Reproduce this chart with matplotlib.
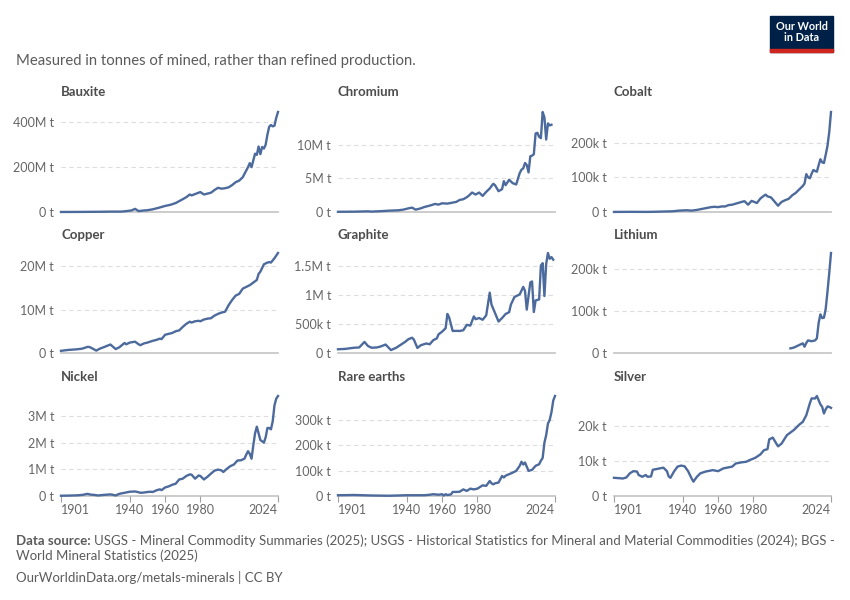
import matplotlib
matplotlib.use('Agg')
import matplotlib.pyplot as plt
from matplotlib.ticker import FuncFormatter
from matplotlib.patches import Rectangle
import numpy as np

plt.rcParams['font.family'] = ['Lato', 'DejaVu Sans']

# ---- data ----
bauxite_years = [1901, 1910, 1915, 1920, 1925, 1930, 1935, 1938, 1941, 1943, 1945, 1947, 1950, 1953, 1956,
                 1960, 1963, 1966, 1970, 1972, 1974, 1975, 1977, 1980, 1982, 1984, 1986, 1988, 1990, 1992,
                 1994, 1996, 1998, 2000, 2002, 2004, 2005, 2006, 2007, 2008, 2009, 2010, 2011, 2012, 2013,
                 2014, 2015, 2016, 2017, 2018, 2019, 2020, 2021, 2022, 2023, 2024]
bauxite_mt = [0.1, 0.3, 0.6, 0.9, 1.2, 1.8, 1.7, 4, 7, 14, 4, 6, 8, 12, 18,
              27, 32, 40, 57, 66, 78, 74, 80, 89, 78, 82, 86, 98, 108, 104,
              106, 110, 120, 133, 140, 155, 170, 185, 200, 218, 200, 230, 260, 255, 292,
              258, 290, 283, 300, 345, 380, 388, 382, 385, 420, 446]

chromium_years = [1901, 1905, 1910, 1915, 1918, 1920, 1925, 1930, 1935, 1938, 1941, 1943, 1945, 1948, 1950,
                  1953, 1956, 1958, 1960, 1963, 1966, 1968, 1970, 1972, 1974, 1975, 1977, 1979, 1981, 1983,
                  1985, 1987, 1989, 1990, 1992, 1994, 1995, 1996, 1998, 2000, 2002, 2004, 2005, 2006, 2007,
                  2008, 2009, 2010, 2011, 2012, 2013, 2014, 2015, 2016, 2017, 2018, 2019, 2020, 2021, 2022]
chromium_mt = [0.03, 0.04, 0.05, 0.08, 0.1, 0.06, 0.12, 0.2, 0.25, 0.35, 0.55, 0.65, 0.35, 0.55, 0.75,
               0.95, 1.2, 1.1, 1.3, 1.25, 1.4, 1.5, 1.8, 1.9, 2.2, 2.4, 2.9, 2.6, 2.9, 2.4,
               3.0, 3.5, 4.2, 4.0, 3.1, 3.4, 4.6, 4.0, 4.8, 4.3, 4.1, 5.8, 6.3, 6.5, 7.3,
               7.0, 5.9, 8.3, 8.4, 8.6, 11.7, 11.8, 11.2, 11.0, 14.9, 14.1, 10.8, 13.2, 12.9, 13.0]

cobalt_years = [1901, 1910, 1915, 1920, 1925, 1930, 1934, 1938, 1942, 1945, 1948, 1950, 1952, 1954, 1956,
                1958, 1960, 1962, 1964, 1966, 1968, 1970, 1972, 1974, 1975, 1977, 1979, 1980, 1982, 1984,
                1986, 1987, 1988, 1990, 1992, 1994, 1995, 1996, 1998, 2000, 2002, 2004, 2006, 2008, 2009,
                2010, 2011, 2012, 2013, 2014, 2015, 2016, 2017, 2018, 2019, 2020, 2021, 2022, 2023, 2024]
cobalt_kt = [0.2, 0.5, 0.4, 0.3, 0.8, 1.5, 2, 4, 5, 4, 6, 8, 10, 12, 14,
             15, 14, 16, 16, 20, 21, 24, 27, 30, 31, 21, 32, 30, 26, 39,
             47, 50, 45, 42, 30, 18, 24, 29, 34, 38, 48, 55, 65, 75, 82,
             109, 100, 97, 110, 121, 118, 116, 135, 152, 143, 141, 165, 190, 230, 288]

copper_years = [1901, 1905, 1910, 1913, 1916, 1917, 1919, 1921, 1923, 1925, 1929, 1930, 1932, 1934, 1937,
                1938, 1940, 1943, 1945, 1946, 1948, 1950, 1953, 1955, 1957, 1958, 1960, 1962, 1964, 1966,
                1968, 1970, 1972, 1974, 1975, 1977, 1979, 1980, 1982, 1984, 1986, 1988, 1990, 1992, 1994,
                1996, 1998, 2000, 2002, 2004, 2006, 2008, 2010, 2012, 2013, 2014, 2016, 2018, 2019, 2020,
                2022, 2024]
copper_mt = [0.5, 0.7, 0.85, 1.0, 1.4, 1.4, 1.0, 0.55, 1.0, 1.3, 1.95, 1.6, 0.9, 1.3, 2.3,
             2.0, 2.4, 2.6, 2.0, 1.8, 2.2, 2.4, 2.8, 3.0, 3.3, 3.2, 4.2, 4.4, 4.6, 5.0,
             5.2, 6.0, 6.7, 7.2, 7.0, 7.3, 7.4, 7.3, 7.7, 7.9, 8.0, 8.6, 9.0, 9.3, 9.5,
             11.0, 12.2, 13.2, 13.6, 14.8, 15.2, 15.6, 16.2, 16.8, 18.2, 18.7, 20.4, 20.8, 20.9, 20.8,
             21.8, 23.0]

graphite_years = [1901, 1905, 1910, 1913, 1916, 1918, 1920, 1923, 1925, 1928, 1931, 1934, 1936, 1939, 1941,
                  1943, 1944, 1946, 1948, 1951, 1953, 1955, 1957, 1958, 1960, 1962, 1963, 1964, 1966, 1968,
                  1970, 1972, 1974, 1976, 1978, 1979, 1981, 1983, 1985, 1987, 1988, 1990, 1992, 1994, 1996,
                  1998, 1999, 2001, 2004, 2006, 2007, 2008, 2010, 2011, 2012, 2013, 2015, 2016, 2017, 2018,
                  2019, 2020, 2021, 2022, 2023]
graphite_kt = [64, 70, 90, 95, 190, 120, 90, 95, 110, 145, 50, 90, 130, 190, 238,
               262, 230, 87, 134, 163, 150, 220, 250, 320, 366, 424, 670, 610, 378, 380,
               378, 390, 483, 470, 628, 580, 600, 570, 645, 1035, 830, 686, 540, 600, 669,
               700, 830, 960, 1006, 1134, 1064, 744, 1209, 1227, 703, 901, 919, 1500, 1541, 977,
               1529, 1715, 1616, 1645, 1600]
graphite_years = graphite_years[:len(graphite_kt)]

lithium_years = [2001, 2002, 2003, 2004, 2005, 2006, 2007, 2008, 2009, 2010, 2011, 2012, 2013, 2014, 2015,
                 2016, 2017, 2018, 2019, 2020, 2021, 2022, 2023, 2024]
lithium_kt = [11, 12, 13, 15, 17, 19, 21, 23, 15, 24, 30, 29, 28, 29, 30,
              35, 72, 92, 83, 84, 105, 146, 190, 238]

nickel_years = [1901, 1905, 1910, 1913, 1916, 1918, 1920, 1922, 1925, 1929, 1930, 1932, 1934, 1937, 1940,
                1943, 1945, 1946, 1948, 1950, 1952, 1953, 1955, 1957, 1958, 1960, 1962, 1964, 1966, 1968,
                1970, 1972, 1974, 1975, 1977, 1979, 1980, 1982, 1984, 1986, 1988, 1990, 1992, 1993, 1995,
                1997, 1999, 2001, 2003, 2005, 2006, 2007, 2008, 2009, 2010, 2011, 2012, 2013, 2014, 2015,
                2016, 2017, 2018, 2019, 2020, 2021, 2022, 2023, 2024]
nickel_mt = [0.01, 0.015, 0.025, 0.04, 0.08, 0.05, 0.04, 0.02, 0.04, 0.06, 0.05, 0.02, 0.08, 0.12, 0.16,
             0.17, 0.14, 0.12, 0.13, 0.15, 0.16, 0.15, 0.21, 0.25, 0.22, 0.32, 0.36, 0.42, 0.46, 0.62,
             0.65, 0.75, 0.81, 0.8, 0.65, 0.77, 0.75, 0.62, 0.72, 0.84, 0.95, 0.99, 0.96, 0.9, 1.02,
             1.12, 1.18, 1.33, 1.34, 1.4, 1.55, 1.68, 1.58, 1.40, 1.9, 2.35, 2.6, 2.35, 2.1, 2.05,
             2.0, 2.2, 2.55, 2.55, 2.5, 2.8, 3.4, 3.65, 3.75]

rare_years = [1901, 1910, 1920, 1930, 1940, 1950, 1953, 1955, 1958, 1960, 1961, 1962, 1963, 1965, 1966,
              1968, 1970, 1972, 1974, 1976, 1978, 1980, 1983, 1985, 1987, 1988, 1989, 1990, 1992, 1994,
              1995, 1996, 1998, 2000, 2002, 2004, 2005, 2006, 2007, 2009, 2011, 2013, 2015, 2016, 2017,
              2018, 2019, 2020, 2021, 2022, 2023, 2024]
rare_kt = [3, 4, 2, 1, 3, 3, 5, 7, 5, 7, 2, 7, 4, 6, 16,
           16, 17, 26, 20, 29, 26, 29, 42, 40, 59, 50, 46, 50, 53, 79,
           73, 80, 86, 92, 99, 119, 135, 124, 132, 99, 103, 119, 125, 139, 150,
           210, 240, 285, 300, 330, 376, 394]

silver_years = [1901, 1904, 1906, 1908, 1910, 1912, 1914, 1915, 1917, 1919, 1920, 1922, 1923, 1925, 1927,
                1929, 1931, 1932, 1933, 1935, 1937, 1939, 1941, 1943, 1945, 1946, 1948, 1950, 1953, 1957,
                1960, 1963, 1966, 1968, 1970, 1973, 1976, 1978, 1981, 1984, 1986, 1988, 1989, 1991, 1993,
                1994, 1996, 1999, 2003, 2006, 2008, 2010, 2012, 2013, 2015, 2016, 2018, 2019, 2020, 2021,
                2022, 2023, 2024]
silver_kt = [5.2, 5.1, 5.0, 5.3, 6.5, 7.1, 7.0, 6.0, 5.5, 6.0, 5.5, 5.6, 7.5, 7.7, 7.9,
             8.1, 7.1, 5.6, 5.2, 7.0, 8.4, 8.7, 8.5, 7.1, 5.0, 4.1, 5.5, 6.5, 7.0, 7.4,
             7.1, 7.9, 8.2, 8.4, 9.3, 9.6, 9.8, 10.3, 10.9, 11.9, 13.1, 13.4, 16.2, 16.7, 15.0,
             14.2, 15.0, 17.4, 18.9, 20.4, 21.2, 23.1, 26.5, 27.9, 27.9, 28.6, 26.2, 25.5, 23.6, 24.8,
             25.6, 25.5, 25.2]

names = ['Bauxite', 'Chromium', 'Cobalt', 'Copper', 'Graphite', 'Lithium', 'Nickel', 'Rare earths', 'Silver']
series = [(bauxite_years, bauxite_mt, 1e6), (chromium_years, chromium_mt, 1e6), (cobalt_years, cobalt_kt, 1e3),
          (copper_years, copper_mt, 1e6), (graphite_years, graphite_kt, 1e3), (lithium_years, lithium_kt, 1e3),
          (nickel_years, nickel_mt, 1e6), (rare_years, rare_kt, 1e3), (silver_years, silver_kt, 1e3)]
yticks = [[0, 200e6, 400e6], [0, 5e6, 10e6], [0, 100e3, 200e3],
          [0, 10e6, 20e6], [0, 500e3, 1e6, 1.5e6], [0, 100e3, 200e3],
          [0, 1e6, 2e6, 3e6], [0, 100e3, 200e3, 300e3], [0, 10e3, 20e3]]
xticks = [1901, 1940, 1960, 1980, 2024]

W, H = 850, 600
LINE = '#4c6a9c'
GREY = '#666666'
TEXT = '#5b5b5b'


def tonnes(v, pos):
    if v == 0:
        return '0 t'
    if v >= 1e6:
        return f'{v / 1e6:g}M t'
    if v >= 1e3:
        return f'{v / 1e3:g}k t'
    return f'{v:g} t'


fig = plt.figure(figsize=(W / 100, H / 100), dpi=100)

col_x = [61, 338, 614]
base_y = [212, 353, 496]
title_y = [92, 235, 377]
pw, ph = 217, 100

for i, name in enumerate(names):
    r, c = divmod(i, 3)
    yrs, vals, mult = series[i]
    assert len(yrs) == len(vals), name
    y = np.array(vals) * mult
    ax = fig.add_axes([col_x[c] / W, 1 - base_y[r] / H, pw / W, ph / H])
    ax.set_xlim(1901, 2024)
    ax.set_ylim(0, y.max())
    for s in ax.spines.values():
        s.set_visible(False)
    for t in yticks[i][1:]:
        ax.axhline(t, color='#dddddd', lw=0.8, ls=(0, (4, 3)), zorder=0)
    ax.axhline(0, color='#c8c8c8', lw=1.3, zorder=1, clip_on=False)
    ax.plot(yrs, y, color=LINE, lw=1.7, clip_on=False, zorder=3, solid_joinstyle='round')
    ax.set_yticks(yticks[i])
    ax.yaxis.set_major_formatter(FuncFormatter(tonnes))
    ax.tick_params(axis='y', length=0, pad=5, labelsize=9, labelcolor=GREY)
    if r == 2:
        ax.set_xticks(xticks)
        ax.tick_params(axis='x', length=4, width=0.8, color='#a0a0a0', labelsize=9, labelcolor=GREY, pad=2)
        labels = ax.get_xticklabels()
        labels[0].set_horizontalalignment('left')
        labels[-1].set_horizontalalignment('right')
    else:
        ax.set_xticks([])
    ax.set_facecolor('none')
    fig.text(col_x[c] / W, 1 - title_y[r] / H, name, fontsize=9.5, fontweight='bold',
             color='#4d4d4d', va='center', ha='left')

# header
fig.text(16 / W, 1 - 61 / H, 'Measured in tonnes of mined, rather than refined production.',
         fontsize=10.7, color=TEXT, va='center', ha='left')
fig.patches.append(Rectangle((770 / W, 1 - 52 / H), 63 / W, 36 / H, transform=fig.transFigure,
                             color='#002147', zorder=5))
fig.patches.append(Rectangle((770 / W, 1 - 52 / H), 63 / W, 3 / H, transform=fig.transFigure,
                             color='#ce261e', zorder=6))
fig.text(801.5 / W, 1 - 32 / H, 'Our World\nin Data', fontsize=7.8, color='white', fontweight='bold',
         ha='center', va='center', linespacing=1.0, zorder=7)

# footer
fs = 9.5
renderer = fig.canvas.get_renderer()
t0 = fig.text(16 / W, 1 - 541 / H, 'Data source:', fontsize=fs, fontweight='bold', color=TEXT,
              va='center', ha='left')
bb = t0.get_window_extent(renderer)
fig.text(bb.x1 / W + 3 / W, 1 - 541 / H,
         'USGS - Mineral Commodity Summaries (2025); USGS - Historical Statistics for Mineral and '
         'Material Commodities (2024); BGS -',
         fontsize=fs, color=TEXT, va='center', ha='left')
fig.text(16 / W, 1 - 556 / H, 'World Mineral Statistics (2025)', fontsize=fs, color=TEXT,
         va='center', ha='left')
fig.text(16 / W, 1 - 577 / H, 'OurWorldinData.org/metals-minerals | CC BY', fontsize=fs,
         color=TEXT, va='center', ha='left')

fig.savefig('out.png', dpi=100)
